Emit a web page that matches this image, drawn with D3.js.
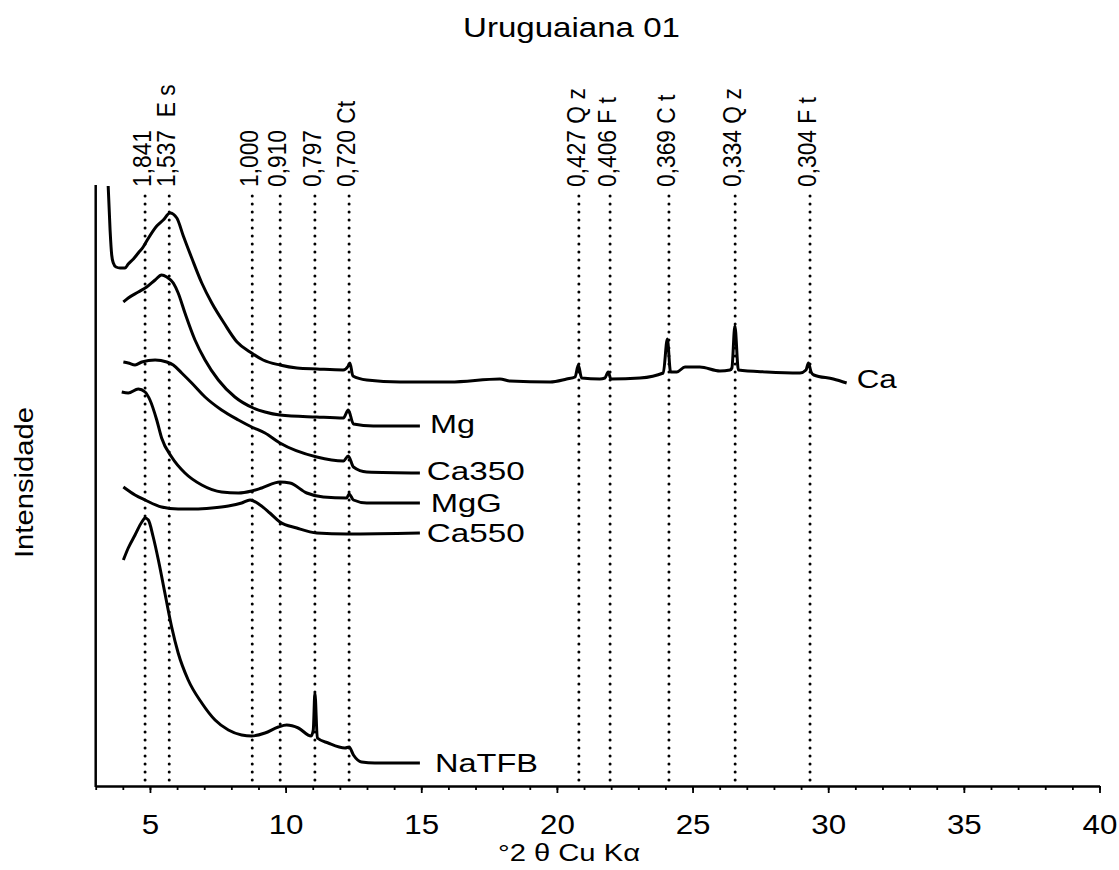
<!DOCTYPE html>
<html><head><meta charset="utf-8">
<script src="https://cdn.jsdelivr.net/npm/d3@7"></script>
<style>
body{margin:0;background:#fff}
svg{display:block}
text{font-family:"Liberation Sans",Arial,sans-serif;fill:#000}
</style>
</head><body>
<svg id="c" width="1119" height="870"></svg>
<script>
// ---------- data (°2θ, arbitrary intensity) ----------
const seriesNames = ["Ca", "Mg", "Ca350", "MgG", "Ca550", "NaTFB"];

const caTheta = [3.46,3.53,3.59,3.65,3.75,3.90,4.08,4.20,4.39,4.57,4.75,4.88,5.25,5.49,5.74,5.99,6.23,6.54,6.91,7.28,7.73,8.21,8.69,9.17,9.79,10.42,11.16,12.12,12.31,12.37,12.48,12.99,14.22,15.69,16.06,17.90,18.27,19.75,20.36,20.67,20.79,20.91,21.58,21.77,21.89,21.99,23.06,23.92,24.07,24.19,24.42,24.72,25.27,26.01,26.38,26.45,26.56,26.69,27.73,28.96,29.18,29.27,29.37,29.47,30.19,30.68];
const caInt   = [600,556,531,523,519,518,518,522,527,533,539,545,560,566,573,568,550,528,503,483,463,444,434,426,421,418,417,416,420,423,410,406,404,404,404,407,405,404,407,409,421,408,407,408,414,407,408,413,447,414,414,419,419,415,416,418,460,416,414,413,416,423,414,411,407,403];

const mgTheta = [4.02,4.20,4.57,4.88,5.19,5.43,5.62,5.86,6.04,6.29,6.66,7.03,7.52,8.13,8.81,9.24,9.79,11.15,12.13,12.31,12.50,13.23,14.95];
const mgInt   = [484,488,494,499,506,511,509,503,493,473,446,426,406,389,378,374,371,369,368,376,362,360,360];

const ca350Theta = [4.02,4.20,4.45,4.70,5.19,5.62,5.86,6.17,6.54,7.03,7.64,8.26,8.75,9.24,9.79,11.15,12.13,12.31,12.50,12.99,14.95];
const ca350Int   = [424,423,421,424,426,424,421,413,403,389,376,366,359,353,343,329,325,330,319,314,313];

const mggTheta = [3.96,4.20,4.57,4.82,5.00,5.25,5.43,5.80,6.29,6.91,7.64,8.26,8.75,9.12,9.79,10.16,10.78,11.39,12.25,12.34,12.50,12.99,14.95];
const mggInt   = [394,393,397,394,386,366,348,329,313,301,294,293,295,298,304,303,293,289,288,292,286,283,283];

const ca550Theta = [4.02,4.45,4.82,5.43,6.04,6.66,7.28,7.89,8.38,8.69,9.06,9.42,9.79,10.41,11.15,12.25,14.95];
const ca550Int   = [299,291,286,279,277,277,278,280,283,286,281,273,264,258,253,252,253];

const natfbTheta = [4.02,4.20,4.45,4.70,4.82,4.94,5.12,5.31,5.55,5.80,6.04,6.41,6.91,7.40,7.89,8.38,8.75,9.24,9.73,10.04,10.47,10.94,11.02,11.08,11.17,11.57,12.19,12.34,12.50,12.80,13.29,14.95];
const natfbInt   = [226,238,251,264,268,266,249,226,193,159,133,106,83,66,56,51,50,53,59,61,58,50,56,93,48,43,38,39,31,24,23,23];

// reference d-spacings (nm) and their °2θ positions
const refTheta  = [4.82, 5.71, 8.77, 9.80, 11.08, 12.34, 20.81, 21.96, 24.13, 26.57, 29.33];
const refLabels = ["1,841", "1,537  E s", "1,000", "0,910", "0,797", "0,720 Ct", "0,427 Q z", "0,406 F t", "0,369 C t", "0,334 Q z", "0,304 F t"];

const xTicksMajor = [5, 10, 15, 20, 25, 30, 35, 40];
const xTicksMinor = d3.range(3, 41);

const titleText = "Uruguaiana 01";
const xTitle = "°2 θ Cu Kα";
const yTitle = "Intensidade";

// ---------- layout ----------
const svg = d3.select("#c");
const x = d3.scaleLinear().domain([3, 40]).range([95.7, 1099.5]);
const y = d3.scaleLinear().domain([0, 600]).range([786, 186]);

const seriesData = [
  [caTheta, caInt], [mgTheta, mgInt], [ca350Theta, ca350Int],
  [mggTheta, mggInt], [ca550Theta, ca550Int], [natfbTheta, natfbInt]
];
const labelPos = [
  {x: 856.7, y: 388, len: 40},
  {x: 430, y: 433, len: 45},
  {x: 426.7, y: 480, len: 98},
  {x: 430.7, y: 511.7, len: 71},
  {x: 426.7, y: 541.7, len: 98},
  {x: 435, y: 771.7, len: 103}
];

// reference dotted lines
svg.append("g").selectAll("line").data(refTheta).join("line")
  .attr("x1", d => x(d)).attr("x2", d => x(d))
  .attr("y1", y(590)).attr("y2", y(2))
  .attr("stroke", "#000").attr("stroke-width", 3)
  .attr("stroke-linecap", "round").attr("stroke-dasharray", "0.1,7.9");

svg.append("g").selectAll("text").data(refTheta).join("text")
  .attr("transform", d => `translate(${x(d) + 6},187) scale(1.15,1) rotate(-90)`)
  .style("white-space", "pre")
  .attr("font-size", 22.8)
  .text((d, i) => refLabels[i]);

// curves
const line = d3.line().x(d => x(d[0])).y(d => y(d[1])).curve(d3.curveMonotoneX);
seriesData.forEach((s, i) => {
  const pts = s[0].map((t, j) => [t, s[1][j]]);
  svg.append("path").datum(pts).attr("d", line)
    .attr("fill", "none").attr("stroke", "#000")
    .attr("stroke-width", 3).attr("stroke-linejoin", "round");
  svg.append("text").attr("x", labelPos[i].x).attr("y", labelPos[i].y)
    .attr("font-size", 25.6)
    .attr("textLength", labelPos[i].len).attr("lengthAdjust", "spacingAndGlyphs")
    .text(seriesNames[i]);
});

// axes
const gx = svg.append("g").attr("transform", `translate(0,${y(0)})`);
gx.call(d3.axisBottom(x).tickValues(xTicksMinor).tickSize(4).tickSizeOuter(0).tickFormat(""))
  .call(g => g.select(".domain").remove());
gx.selectAll("line").attr("stroke", "#000").attr("stroke-width", 1.8);
const gx2 = svg.append("g").attr("transform", `translate(0,${y(0)})`);
gx2.call(d3.axisBottom(x).tickValues(xTicksMajor).tickSize(7).tickSizeOuter(0).tickFormat(d3.format("d")));
gx2.select(".domain").attr("stroke", "#000").attr("stroke-width", 2.5);
gx2.selectAll(".tick line").attr("stroke", "#000").attr("stroke-width", 1.8);
gx2.selectAll(".tick text").attr("y", 48).attr("dy", 0)
  .attr("font-size", 27).attr("font-family", "Liberation Sans, Arial, sans-serif")
  .attr("fill", "#000").attr("transform", "scale(1.16,1)");

svg.append("line").attr("x1", x(3)).attr("x2", x(3))
  .attr("y1", y(0) + 1).attr("y2", y(601))
  .attr("stroke", "#000").attr("stroke-width", 2.5);

// titles
svg.append("text").attr("x", 463).attr("y", 37).attr("font-size", 28)
  .attr("textLength", 217).attr("lengthAdjust", "spacingAndGlyphs").text(titleText);
svg.append("text").attr("x", 498).attr("y", 861).attr("font-size", 23)
  .attr("textLength", 142).attr("lengthAdjust", "spacingAndGlyphs").text(xTitle);
svg.append("text").attr("transform", "translate(33,558) rotate(-90)").attr("font-size", 26)
  .attr("textLength", 151).attr("lengthAdjust", "spacingAndGlyphs").text(yTitle);
</script>
</body></html>
